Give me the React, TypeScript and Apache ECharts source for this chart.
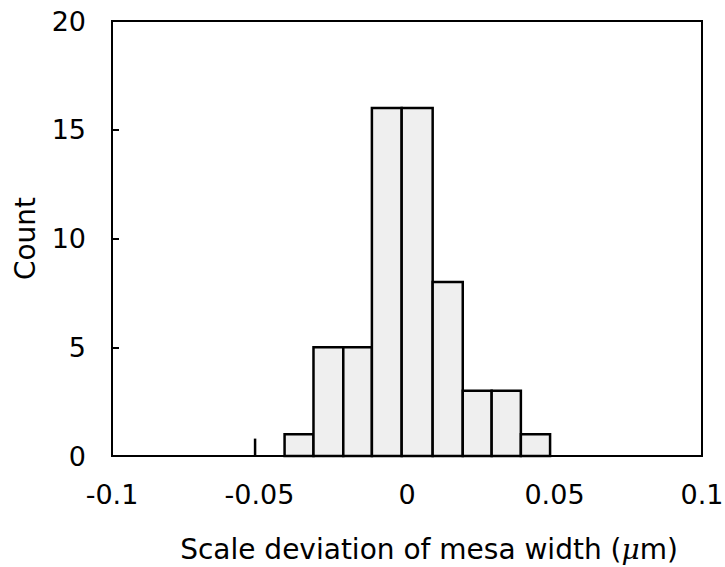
import React, { useEffect, useRef } from "react";
import * as echarts from "echarts";

const binStart = [-0.0415, -0.0317, -0.0216, -0.0119, -0.0018, 0.0087, 0.0189, 0.0287, 0.0386];
const binEnd = [-0.0317, -0.0216, -0.0119, -0.0018, 0.0087, 0.0189, 0.0287, 0.0386, 0.0485];
const counts = [1, 5, 5, 16, 16, 8, 3, 3, 1];
const spikeX = [-0.0515];
const spikeCount = [0.8];
const xTicks = [-0.1, -0.05, 0, 0.05, 0.1];
const yTicks = [0, 5, 10, 15, 20];

const FONT = "'DejaVu Sans', sans-serif";

export default function App() {
  const ref = useRef<HTMLDivElement>(null);
  useEffect(() => {
    if (!ref.current) return;
    const chart = echarts.init(ref.current, null, { renderer: "svg" });
    const barData = counts.map((c, i) => [binStart[i], binEnd[i], c]);
    const spikeData = spikeX.map((x, i) => [x, spikeCount[i]]);
    chart.setOption({
      animation: false,
      backgroundColor: "#ffffff",
      grid: {
        left: 112,
        right: 23,
        top: 21,
        bottom: 111,
        outerBoundsMode: "none",
        containLabel: false,
        show: true,
        borderColor: "#000",
        borderWidth: 2,
        backgroundColor: "transparent",
      },
      xAxis: {
        type: "value",
        min: -0.1,
        max: 0.1,
        interval: 0.05,
        name: "Scale deviation of mesa width ({i|μ}m)",
        nameLocation: "middle",
        nameGap: 79,
        nameTextStyle: {
          fontFamily: FONT,
          fontSize: 28,
          color: "#000",
          padding: [0, 0, 0, 44],
          rich: { i: { fontFamily: "'DejaVu Serif', serif", fontStyle: "italic", fontSize: 28, color: "#000" } },
        },
        axisLine: { show: true, onZero: false, lineStyle: { color: "#000", width: 2 } },
        axisTick: { show: false },
        splitLine: { show: false },
        axisLabel: {
          fontFamily: FONT,
          fontSize: 27,
          color: "#000",
          margin: 25,
          formatter: (v: number) => {
            const t = xTicks.find((x) => Math.abs(x - v) < 1e-9);
            return t === undefined ? "" : String(t);
          },
        },
      },
      yAxis: {
        type: "value",
        min: 0,
        max: 20,
        interval: 5,
        name: "Count",
        nameLocation: "middle",
        nameGap: 73,
        nameTextStyle: { fontFamily: FONT, fontSize: 28, color: "#000" },
        axisLine: { show: true, onZero: false, lineStyle: { color: "#000", width: 2 } },
        axisTick: { show: true, inside: true, length: 7, lineStyle: { color: "#000", width: 2 } },
        splitLine: { show: false },
        axisLabel: {
          fontFamily: FONT,
          fontSize: 27,
          color: "#000",
          margin: 26,
          formatter: (v: number) => {
            const t = yTicks.find((y) => Math.abs(y - v) < 1e-9);
            return t === undefined ? "" : String(t);
          },
        },
      },
      series: [
        {
          type: "custom",
          data: barData,
          renderItem: (params: any, api: any) => {
            const p0 = api.coord([api.value(0), 0]);
            const p1 = api.coord([api.value(1), api.value(2)]);
            return {
              type: "rect",
              shape: { x: p0[0], y: p1[1], width: p1[0] - p0[0], height: p0[1] - p1[1] },
              style: { fill: "#efefef", stroke: "#000", lineWidth: 2.5 },
            };
          },
        },
        {
          type: "custom",
          data: spikeData,
          renderItem: (params: any, api: any) => {
            const p0 = api.coord([api.value(0), 0]);
            const p1 = api.coord([api.value(0), api.value(1)]);
            return {
              type: "line",
              shape: { x1: p0[0], y1: p0[1], x2: p1[0], y2: p1[1] },
              style: { stroke: "#000", lineWidth: 2.5 },
            };
          },
        },
      ],
    });
    return () => chart.dispose();
  }, []);
  return (
    <div
      ref={ref}
      style={{ position: "absolute", left: 0, top: 0, width: 725, height: 567 }}
    />
  );
}
